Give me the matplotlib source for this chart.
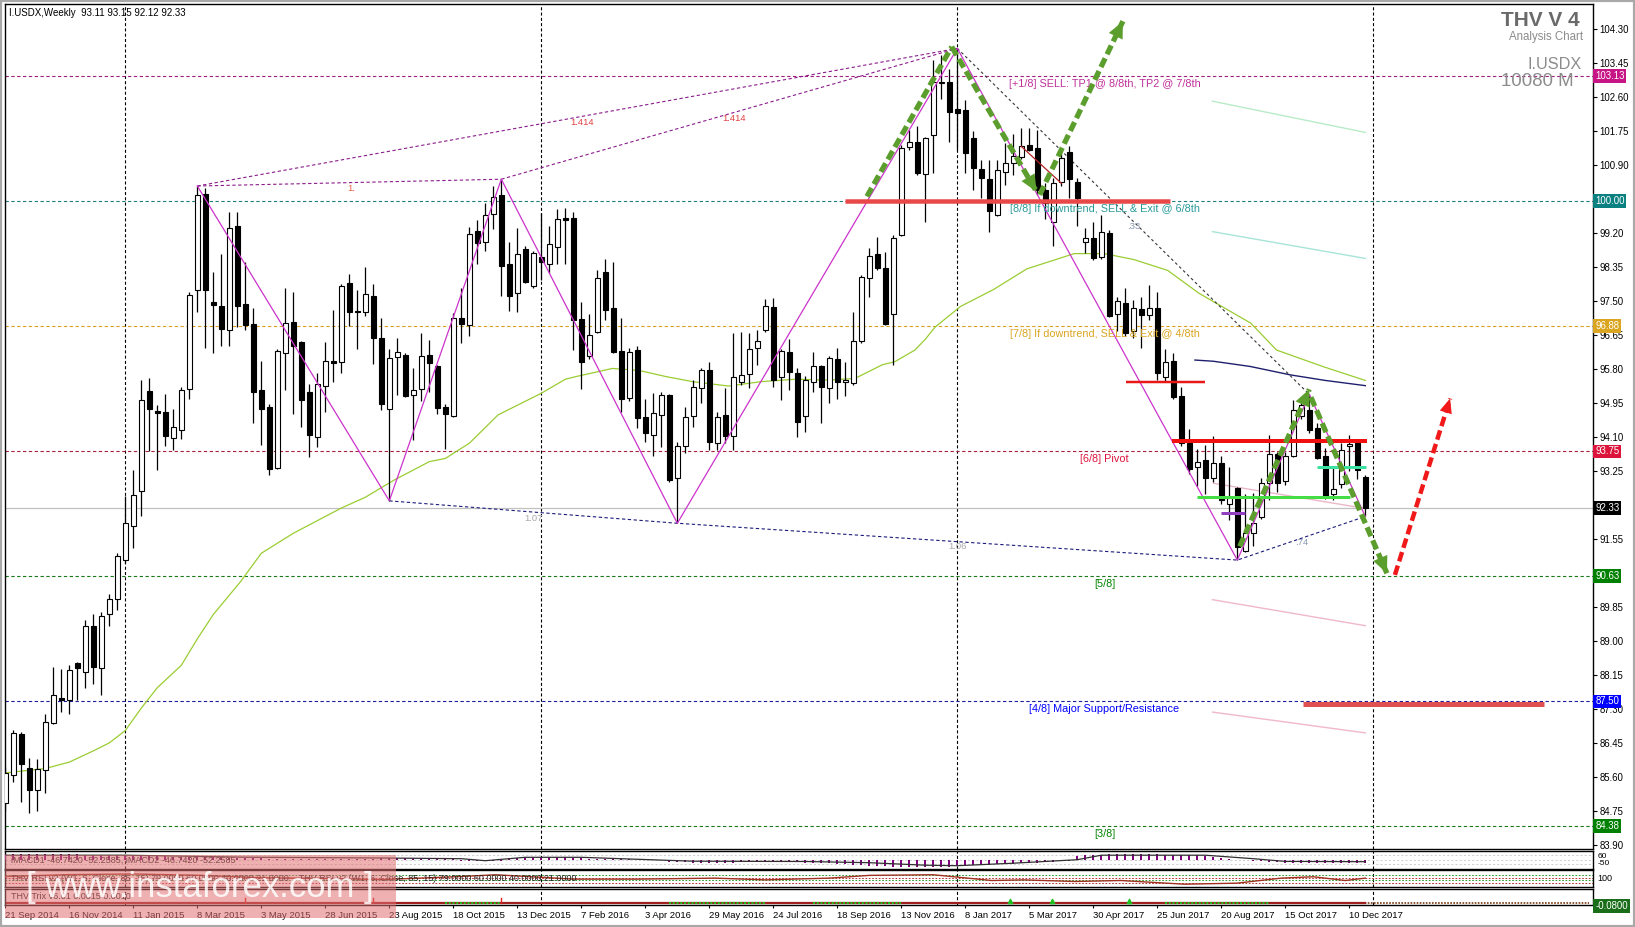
import matplotlib
matplotlib.use("Agg")
import matplotlib.pyplot as plt
from matplotlib.patches import Rectangle
from matplotlib.transforms import blended_transform_factory
import numpy as np

plt.rcParams['font.family'] = ['Liberation Sans', 'DejaVu Sans']
plt.rcParams['lines.scale_dashes'] = False

W, H, DPI = 1635, 927, 100

# ---------------- weekly I.USDX candles (21 Sep 2014 .. 24 Dec 2017) ----------------
opens = [84.95, 85.66, 86.69, 85.84, 85.29, 85.78, 86.96, 87.58, 87.53, 88.46,
         88.24, 89.39, 88.33, 89.67, 90.05, 91.03, 91.88, 92.76, 95.26, 94.75,
         94.73, 94.09, 94.29, 95.31, 97.78, 100.17, 97.49, 97.39, 96.78, 99.38,
         97.43, 96.93, 95.28, 94.85, 93.33, 96.20, 96.97, 96.47, 95.22, 94.10,
         95.39, 96.00, 95.97, 97.95, 97.26, 97.23, 97.63, 96.57, 94.80, 96.10,
         96.15, 95.15, 95.30, 96.16, 95.88, 94.85, 94.63, 97.08, 96.91, 99.26,
         98.98, 99.68, 100.16, 98.42, 97.70, 98.80, 97.87, 98.60, 98.43, 98.85,
         99.58, 99.58, 97.05, 96.12, 96.72, 98.22, 97.32, 96.26, 95.09, 96.28,
         94.60, 94.16, 94.66, 95.16, 93.08, 93.87, 94.64, 95.33, 95.78, 93.95,
         94.66, 94.14, 95.49, 95.69, 96.32, 96.77, 97.35, 95.60, 96.24, 95.70,
         94.62, 95.49, 95.87, 95.32, 96.05, 95.47, 95.45, 96.51, 98.07, 98.67,
         98.32, 97.17, 99.16, 101.35, 101.47, 100.68, 101.66, 102.95, 102.97, 102.30,
         102.28, 101.59, 100.80, 100.56, 99.66, 100.74, 100.95, 101.10, 101.40, 101.33,
         100.28, 99.49, 100.49, 101.24, 100.49, 98.97, 99.08, 98.60, 99.21, 97.19,
         97.46, 96.75, 97.31, 97.16, 97.33, 95.60, 96.01, 95.12, 93.95, 93.35,
         93.53, 93.07, 93.45, 92.44, 92.84, 91.26, 91.70, 92.11, 92.95, 93.67,
         93.01, 93.62, 94.62, 94.78, 94.32, 93.62, 92.67, 92.92, 93.88, 93.95,
         93.11]
highs = [85.85, 86.77, 86.73, 86.07, 86.05, 87.19, 88.35, 88.30, 88.40, 88.48,
         89.52, 89.69, 89.74, 90.18, 91.20, 92.63, 93.29, 95.53, 95.59, 94.90,
         95.19, 94.80, 95.35, 97.73, 100.38, 100.33, 98.24, 98.67, 99.73, 99.73,
         98.48, 97.32, 96.01, 94.92, 96.31, 97.83, 97.74, 96.50, 95.43, 95.70,
         96.48, 97.28, 97.92, 98.18, 97.78, 98.35, 97.93, 97.07, 96.30, 96.57,
         96.20, 95.82, 96.70, 96.53, 95.90, 94.94, 97.20, 97.83, 99.36, 99.53,
         99.95, 100.38, 100.55, 98.97, 99.33, 98.88, 98.75, 99.70, 99.37, 99.80,
         99.83, 99.73, 97.47, 97.18, 98.28, 98.55, 98.49, 97.07, 96.32, 96.37,
         95.05, 95.20, 95.24, 95.18, 93.99, 94.85, 95.53, 95.82, 95.97, 94.74,
         95.32, 96.71, 96.74, 96.71, 96.79, 97.55, 97.57, 96.30, 96.55, 95.82,
         95.62, 96.24, 95.90, 96.12, 96.33, 95.97, 97.24, 98.15, 98.82, 99.11,
         98.72, 99.16, 101.41, 101.78, 101.87, 101.60, 103.54, 103.65, 103.30, 103.82,
         102.53, 101.75, 101.03, 101.03, 101.03, 101.45, 101.68, 101.83, 101.83, 101.78,
         100.45, 100.57, 101.32, 101.37, 100.57, 99.33, 99.47, 99.66, 99.27, 97.60,
         97.83, 97.54, 97.60, 97.91, 97.73, 96.30, 96.20, 95.35, 94.30, 93.80,
         93.91, 94.13, 93.63, 93.36, 92.86, 92.67, 92.71, 93.09, 94.16, 93.72,
         93.74, 95.03, 95.11, 95.17, 94.45, 93.82, 93.37, 93.96, 94.15, 94.00,
         93.15]
lows = [84.75, 85.49, 84.98, 84.70, 84.75, 85.21, 86.92, 87.24, 87.17, 87.53,
        87.82, 87.92, 87.65, 89.39, 89.79, 90.95, 91.32, 92.14, 93.75, 93.29,
        93.88, 93.79, 94.06, 95.05, 97.24, 96.33, 96.20, 96.37, 96.37, 96.85,
        96.77, 94.45, 93.91, 93.16, 93.30, 95.28, 94.68, 94.35, 93.60, 93.86,
        94.72, 95.47, 95.70, 96.88, 96.30, 97.13, 95.92, 94.78, 92.51, 95.16,
        95.10, 94.04, 95.01, 95.22, 94.68, 93.81, 94.60, 96.45, 96.64, 98.42,
        98.76, 99.31, 97.62, 97.25, 97.22, 97.95, 97.83, 98.04, 98.21, 98.42,
        98.42, 96.28, 95.30, 96.05, 96.70, 97.03, 96.20, 94.72, 95.01, 94.32,
        93.99, 93.62, 93.86, 92.99, 91.95, 93.70, 94.35, 94.95, 93.78, 93.78,
        93.95, 93.78, 95.40, 95.32, 95.90, 96.72, 95.36, 95.02, 95.27, 94.10,
        94.22, 95.22, 94.46, 94.95, 95.05, 95.14, 95.40, 96.45, 97.61, 98.28,
        96.91, 95.91, 99.12, 101.28, 100.66, 99.47, 100.70, 102.55, 101.49, 101.28,
        100.70, 100.27, 100.07, 99.24, 99.62, 100.40, 100.66, 101.06, 101.25, 100.16,
        99.55, 98.87, 100.37, 100.07, 99.37, 98.71, 98.53, 98.55, 97.11, 96.75,
        96.63, 96.59, 96.34, 97.04, 95.54, 95.50, 95.05, 93.87, 93.19, 92.87,
        92.69, 92.99, 92.43, 92.03, 91.03, 91.22, 91.39, 92.05, 92.53, 92.73,
        92.90, 93.60, 94.55, 94.20, 93.55, 92.56, 92.53, 92.82, 93.25, 93.06,
        92.12]
closes = [85.71, 86.71, 85.92, 85.27, 85.80, 86.97, 87.66, 87.53, 88.28, 88.34,
          89.37, 88.35, 89.63, 90.05, 91.14, 91.96, 92.66, 95.02, 94.80, 94.71,
          94.13, 94.35, 95.28, 97.65, 100.15, 97.78, 97.41, 96.81, 99.33, 97.37,
          96.91, 95.22, 94.80, 93.30, 96.26, 96.95, 96.39, 95.02, 94.16, 95.43,
          96.01, 95.96, 97.88, 97.24, 97.22, 97.68, 96.57, 94.92, 96.07, 96.24,
          95.14, 95.28, 96.13, 95.96, 94.84, 94.67, 97.07, 96.92, 99.18, 98.95,
          99.66, 100.10, 98.37, 97.62, 98.68, 97.99, 98.70, 98.47, 98.93, 99.55,
          99.53, 97.03, 95.99, 96.66, 98.07, 97.29, 96.24, 95.05, 96.22, 94.57,
          94.20, 94.70, 95.16, 93.03, 93.87, 94.60, 95.35, 95.78, 93.97, 94.60,
          94.13, 95.60, 95.65, 96.30, 96.51, 97.39, 95.53, 96.26, 95.74, 94.47,
          95.52, 95.87, 95.36, 96.08, 95.49, 95.53, 96.51, 98.11, 98.64, 98.32,
          96.93, 99.07, 101.32, 101.49, 100.70, 101.57, 102.98, 102.97, 102.24, 102.20,
          101.21, 100.83, 100.57, 99.76, 100.77, 100.95, 101.12, 101.37, 101.28, 100.28,
          99.95, 100.45, 101.07, 100.56, 100.07, 99.08, 98.58, 99.23, 97.13, 97.50,
          96.71, 97.33, 97.15, 97.33, 95.71, 95.97, 95.10, 93.95, 93.30, 93.47,
          93.07, 93.45, 92.53, 92.57, 91.35, 91.70, 91.95, 92.95, 93.67, 92.95,
          93.62, 94.78, 94.91, 94.28, 93.57, 92.64, 92.80, 93.77, 93.93, 93.28,
          92.33]

# date labels every 8 weekly bars
date_labels = ['21 Sep 2014', '16 Nov 2014', '11 Jan 2015', '8 Mar 2015', '3 May 2015',
               '28 Jun 2015', '23 Aug 2015', '18 Oct 2015', '13 Dec 2015', '7 Feb 2016',
               '3 Apr 2016', '29 May 2016', '24 Jul 2016', '18 Sep 2016', '13 Nov 2016',
               '8 Jan 2017', '5 Mar 2017', '30 Apr 2017', '25 Jun 2017', '20 Aug 2017',
               '15 Oct 2017', '10 Dec 2017']
year_start_bars = [15, 67, 119, 171]

# right price scale (steps hidden behind the level boxes are left out)
price_ticks = [104.30, 103.45, 102.60, 101.75, 100.90, 99.20, 98.35, 97.50,
               96.65, 95.80, 94.95, 94.10, 93.25, 91.55, 89.85, 89.00,
               88.15, 87.30, 86.45, 85.60, 84.75, 83.90]

# Murrey math octave levels
mm_levels = [103.13, 100.00, 96.88, 93.75, 90.63, 87.50, 84.38]
mm_line_colors = ['#a0207f', '#1f7f7f', '#d8a020', '#a8203a', '#1a7a1a', '#1c1c9c', '#1a7a1a']
mm_box_colors = ['#c71585', '#0b8080', '#daa520', '#dc143c', '#008000', '#0000ff', '#008000']
mm_texts = ['[+1/8] SELL: TP1 @ 8/8th, TP2 @ 7/8th', '[8/8] If downtrend, SELL & Exit @ 6/8th',
            '[7/8] If downtrend, SELL & Exit @ 4/8th', '[6/8] Pivot', '[5/8]',
            '[4/8] Major Support/Resistance', '[3/8]']
mm_text_colors = ['#c0309a', '#2a9a9a', '#daa520', '#dc143c', '#008000', '#0000ff', '#008000']
last_price = 92.33

# moving averages
ma_green_bars = [0, 5, 8, 11, 13, 15, 17, 19, 22, 24, 26, 29.4, 32, 36, 42, 45, 48.6, 53, 55, 58,
                 61.6, 67, 70, 71.4, 75.9, 79.2, 82.5, 85.9, 90.4, 94.5, 98.7, 102.9, 106.2,
                 109.6, 111.2, 113.7, 115, 116.2, 119.4, 123.5, 127.7, 133.6, 137.4, 141.1,
                 145.3, 149.2, 155.7, 158.9, 164.8, 170]
ma_green_vals = [85.71, 85.82, 85.98, 86.26, 86.46, 86.77, 87.33, 87.84, 88.40, 89.06, 89.67,
                 90.49, 91.2, 91.7, 92.33, 92.6, 93.03, 93.49, 93.57, 93.95, 94.66, 95.2,
                 95.55, 95.62, 95.82, 95.77, 95.62, 95.49, 95.38, 95.49, 95.55, 95.53, 95.57,
                 95.91, 95.99, 96.28, 96.55, 96.85, 97.37, 97.79, 98.31, 98.69, 98.69, 98.54,
                 98.27, 97.7, 96.95, 96.28, 95.86, 95.52]
ma_navy_bars = [148.7, 151, 155.6, 160.6, 165, 170]
ma_navy_vals = [96.03, 96.0, 95.87, 95.66, 95.52, 95.39]

# zigzag pivots (bar, price)
zz_bars = [24, 48, 62, 84, 119, 154, 163, 170]
zz_vals = [100.38, 92.51, 100.55, 91.95, 103.82, 91.03, 95.17, 92.12]

# thick horizontal marker lines: (bar_from, bar_to, price, colour, width_px)
marker_lines = [(105.0, 145.6, 100.00, '#e84848', 4.5),
                (140.1, 149.9, 95.48, '#e81818', 2.5),
                (145.8, 170.2, 94.01, '#f01010', 4.0),
                (162.2, 192.3, 87.43, '#e05050', 5.0),
                (148.9, 168.1, 92.61, '#44dd44', 3.0),
                (163.9, 170.1, 93.35, '#3ce0a0', 3.0),
                (152.0, 155.0, 92.21, '#9040c0', 3.0)]
# faint projection lines: (bar_from, price_from, bar_to, price_to, colour)
proj_lines = [(150.9, 102.50, 170.0, 101.72, '#b8ecc8'),
              (150.9, 99.24, 170.0, 98.57, '#a8e4d8'),
              (151.0, 92.95, 170.0, 92.32, '#eab8c8'),
              (150.9, 90.04, 170.0, 89.39, '#f0b8c8'),
              (150.9, 87.23, 170.0, 86.71, '#f0b8c8')]

# forecast arrows: (bar_from, price_from, bar_to, price_to, head)
green_arrows = [(107.7, 100.12, 118.3, 103.86, False),
                (118.3, 103.86, 128.9, 100.24, True),
                (129.3, 100.16, 139.7, 104.50, True),
                (154.3, 91.37, 163.0, 95.30, True),
                (163.2, 95.10, 172.7, 90.70, True)]
red_arrow = (173.7, 90.66, 180.6, 95.07)

# ratio labels of the zigzag legs
ratio_labels = [('1.', 43.2, 100.33, '#e86040'), ('1.414', 72.1, 101.98, '#e04040'),
                ('1.414', 91.1, 102.06, '#e04040'), ('1.07', 66.0, 92.08, '#a8a8a8'),
                ('1.06', 119.0, 91.38, '#a8a8a8'), ('.33', 141.1, 99.36, '#8898b0'),
                ('.74', 162.1, 91.46, '#8898b0')]

# lower indicator panels
macd_hist = [6, 6, 6, 6, 6, 6, 6, 6, 6, 6, 5, 5, 5, 5, 5, 5,
             4, 4, 4, 4, 4, 3, 3, 3, 3, 3, 3, 3, 2, 2, 2, 2, 2, 1, 1, 1, 1, 1, 1, 1, 1, 1, 1,
             1, 1, 1, 1,
             2, 2, 2, 2, 2, 2, 2, 2, 1, 1,
             -1, -1, -1, -1, -1, -1,
             2, 2, 2, 3, 3, 3, 3, 3, 2, 2,
             1, 1, 1, 1, 1, 1, 0, 0, 0, 0,
             -2, -2, -2, -3, -3, -3, -3, -3, -3, -2, -2, -2, -2, -2, -2, -2, -2, -3, -3, -3,
             -3, -4, -4, -5, -5, -6, -6, -6, -7, -7, -7, -7, -7, -7, -7, -7,
             -6, -6, -5, -5, -5, -4, -4, -4, -3, -3, -3, -2, -2, -1, -1,
             4, 5, 5, 5, 6, 6, 6, 6, 6, 6, 6, 5, 5, 5, 5, 5, 4,
             3, 2, 1, 0, 0, -1, -1, -2, -2,
             -3, -3, -3, -3, -3, -3, -3, -3, -3, -3, -3]
macd_sig_bars = [0, 15, 30, 47, 57, 60, 65, 72, 78, 86, 100, 108, 115, 119, 126, 134, 137, 150, 156, 160, 170]
macd_sig_vals = [4.5, 4.5, 2.5, 1.7, 1.0, -1.0, 2.4, 2.4, 0.7, -1.5, -1.8, -3.0, -5.5, -6.0, -3.5, 0.0,
                 4.5, 4.5, 1.0, -1.7, -2.0]
rsi_bars = [0, 8, 16, 24, 32, 40, 47, 57.3, 61.3, 71, 79, 88.7, 95, 103, 108, 116, 123.3, 127.3,
            133.7, 139.4, 147.4, 153.9, 159.5, 163.5, 167.5, 170]
rsi_vals = [70, 85, 90, 80, 60, 55, 45, 71, 84, 49, 49, 57, 43, 57, 79, 84, 38, 43, 30, 38, 8.5,
            16.6, 57, 68, 38, 57]
rsi_levels = [79, 60, 40, 21]
trix_green_runs = [(55, 62), (83, 95), (101, 112), (145, 158)]
trix_red_spikes = [30, 46, 62]
trix_green_marks = [125.6, 130.8, 140.5]

# ---------------- figure and panels ----------------
fig = plt.figure(figsize=(W / DPI, H / DPI), dpi=DPI, facecolor='white')


def rect(x0, y0, x1, y1):
    return [x0 / W, 1 - y1 / H, (x1 - x0) / W, (y1 - y0) / H]


XL, XR = 5, 1593
ax = fig.add_axes(rect(XL, 4, XR, 849.3))
ax_macd = fig.add_axes(rect(XL, 850.7, XR, 868.7), sharex=ax)
ax_rsi = fig.add_axes(rect(XL, 870, XR, 887.3), sharex=ax)
ax_trix = fig.add_axes(rect(XL, 889.3, XR, 904.5), sharex=ax)

n = len(closes)
xs = np.arange(n)
ax.set_xlim(-0.04, 198.46)
ax.set_ylim(83.80, 104.93)

for a in (ax, ax_macd, ax_rsi, ax_trix):
    for s in a.spines.values():
        s.set_color('black')
        s.set_linewidth(1.0)
    a.tick_params(axis='x', which='both', length=0, labelbottom=False)
    for yb in year_start_bars:
        a.axvline(yb, color='black', lw=0.8, dashes=(2.2, 1.6), zorder=1)

# price scale on the right
ax.yaxis.tick_right()
ax.set_yticks(price_ticks)
ax.set_yticklabels(['%.2f' % v for v in price_ticks])
ax.tick_params(axis='y', direction='out', length=3, width=0.8, pad=1.5, labelsize=6.9,
               colors='black')

trans_r = blended_transform_factory(ax.transAxes, ax.transData)

# Murrey levels
for lvl, lc, bc, txt, tc in zip(mm_levels, mm_line_colors, mm_box_colors, mm_texts, mm_text_colors):
    ax.axhline(lvl, color=lc, lw=0.8, dashes=(2.4, 1.8), zorder=1)
    ax.text(137.4, lvl - 0.19, txt, ha='center', va='center', fontsize=7.8, color=tc, zorder=6)
    ax.text(1.0014, lvl, '%.2f' % lvl, transform=trans_r, ha='left', va='center', fontsize=6.9,
            color='white', clip_on=False, zorder=12,
            bbox=dict(boxstyle='square,pad=0.18', fc=bc, ec='none'))
ax.axhline(last_price, color='#c0c0c0', lw=0.9, zorder=1)
ax.text(1.0014, last_price, '%.2f' % last_price, transform=trans_r, ha='left', va='center',
        fontsize=6.9, color='white', clip_on=False, zorder=12,
        bbox=dict(boxstyle='square,pad=0.18', fc='black', ec='none'))

# moving averages
ax.plot(ma_green_bars, ma_green_vals, color='#9acd32', lw=0.9, zorder=2)
ax.plot(ma_navy_bars, ma_navy_vals, color='#1f1f70', lw=1.0, zorder=2)

# projection lines
for b0, p0, b1, p1, col in proj_lines:
    ax.plot([b0, b1], [p0, p1], color=col, lw=1.0, zorder=2)

# fib connector lines
ax.plot([zz_bars[0], zz_bars[2]], [zz_vals[0], zz_vals[2]], color='#8b1c8b', lw=0.8, dashes=(2.4, 1.8), zorder=2)
ax.plot([zz_bars[0], zz_bars[4]], [zz_vals[0], zz_vals[4]], color='#8b1c8b', lw=0.8, dashes=(2.4, 1.8), zorder=2)
ax.plot([zz_bars[2], zz_bars[4]], [zz_vals[2], zz_vals[4]], color='#8b1c8b', lw=0.8, dashes=(2.4, 1.8), zorder=2)
ax.plot([zz_bars[1], zz_bars[3], zz_bars[5], zz_bars[7]],
        [zz_vals[1], zz_vals[3], zz_vals[5], zz_vals[7]], color='#1c1c7c', lw=0.8, dashes=(2.4, 1.8), zorder=2)
ax.plot([zz_bars[4], zz_bars[6]], [zz_vals[4], zz_vals[6]], color='#333333', lw=0.8, dashes=(2.0, 2.0), zorder=2)
ax.plot([127, 132], [101.37, 100.45], color='#b02020', lw=0.9, zorder=5)
for txt, b, p, col in ratio_labels:
    ax.text(b, p, txt, ha='center', va='center', fontsize=6.8, color=col, zorder=6)

# candles
o, h, l, c = map(np.asarray, (opens, highs, lows, closes))
ax.vlines(xs, l, h, color='black', lw=0.9, zorder=3)
bw = 0.56
for i in range(n):
    lo, hi = min(o[i], c[i]), max(o[i], c[i])
    if hi - lo < 0.03:
        hi = lo + 0.03
    ax.add_patch(Rectangle((xs[i] - bw / 2, lo), bw, hi - lo,
                           fc='white' if c[i] >= o[i] else 'black', ec='black', lw=0.8, zorder=4))

# zigzag
ax.plot(zz_bars, zz_vals, color='#cc33cc', lw=0.9, zorder=5)

# horizontal marker lines
for b0, b1, p, col, wpx in marker_lines:
    ax.plot([b0, b1], [p, p], color=col, lw=wpx * 0.72, solid_capstyle='butt', zorder=7)

# arrows
GREEN = '#5c9e2e'
for b0, p0, b1, p1, head in green_arrows:
    ax.plot([b0, b1], [p0, p1], color=GREEN, lw=3.8, dashes=(7.0, 3.2), solid_capstyle='butt',
            dash_capstyle='butt', zorder=8)
    if head:
        ax.annotate('', xy=(b1, p1), xytext=(b1 - 0.12 * (b1 - b0), p1 - 0.12 * (p1 - p0)),
                    arrowprops=dict(arrowstyle='-|>,head_length=1.2,head_width=0.55',
                                    mutation_scale=10, lw=0, color=GREEN,
                                    shrinkA=0, shrinkB=0), zorder=9)
b0, p0, b1, p1 = red_arrow
ax.plot([b0, b1], [p0, p1], color='#f01818', lw=3.2, dashes=(7.0, 3.2), dash_capstyle='butt', zorder=8)
ax.annotate('', xy=(b1, p1), xytext=(b1 - 0.15 * (b1 - b0), p1 - 0.15 * (p1 - p0)),
            arrowprops=dict(arrowstyle='-|>,head_length=1.05,head_width=0.45', mutation_scale=10,
                            lw=0, color='#f01818', shrinkA=0, shrinkB=0), zorder=9)

# headings
ax.text(0.0025, 0.9897, 'I.USDX,Weekly  %.2f %.2f %.2f %.2f' % (opens[-1], highs[-1], lows[-1], closes[-1]),
        transform=ax.transAxes, ha='left', va='center', fontsize=7.0, color='black')
ax.text(0.9918, 0.981, 'THV V 4', transform=ax.transAxes, ha='right', va='center', fontsize=15,
        fontweight='bold', color='#6a6a6a')
ax.text(0.9937, 0.961, 'Analysis Chart', transform=ax.transAxes, ha='right', va='center',
        fontsize=8.3, color='#8c8c8c')
ax.text(0.993, 0.929, 'I.USDX', transform=ax.transAxes, ha='right', va='center', fontsize=11.7,
        color='#8c8c8c')
ax.text(0.988, 0.908, '10080 M', transform=ax.transAxes, ha='right', va='center', fontsize=13.4,
        color='#8c8c8c')

# ---------------- MACD panel ----------------
ax_macd.set_ylim(-9, 9)
for yy in (4.4, 0, -4.3):
    ax_macd.axhline(yy, color='#c8c8c8', lw=0.6, dashes=(1.5, 1.5))
ax_macd.bar(xs, macd_hist, width=0.25, bottom=0, color='#800080', zorder=3)
ax_macd.plot(macd_sig_bars, macd_sig_vals, color='#303030', lw=0.9, zorder=4)
ax_macd.text(0.004, 0.45, 'iMACD1 -46.7420 -52.2585, iMACD2 -46.7420 -52.2585',
             transform=ax_macd.transAxes, fontsize=6.5, color='#202020', va='center')
ax_macd.set_yticks([])
ax_macd.text(1.003, 0.7, '60', transform=ax_macd.transAxes, fontsize=6.0, va='center', clip_on=False)
ax_macd.text(1.003, 0.3, '-50', transform=ax_macd.transAxes, fontsize=6.0, va='center', clip_on=False)

# ---------------- RSI panel ----------------
ax_rsi.set_ylim(-16.3, 121.9)
for lv, col in zip(rsi_levels, ['#2a9a2a', '#b03030', '#2a9a2a', '#b03030']):
    ax_rsi.axhline(lv, color=col, lw=0.7, dashes=(1.2, 1.2))
ax_rsi.plot(rsi_bars, rsi_vals, color='#a03020', lw=1.0, zorder=3)
ax_rsi.text(0.004, 0.5, 'THV RSI v2 (W1, 6, Close, 85, 15) 79.0000 60.0000 40.0000 21.0000    '
            'THV RSI v2 (W1, 6, Close, 85, 15) 79.0000 60.0000 40.0000 21.0000',
            transform=ax_rsi.transAxes, fontsize=6.5, color='#202020', va='center')
ax_rsi.set_yticks([])
ax_rsi.text(1.003, 0.5, '100', transform=ax_rsi.transAxes, fontsize=6.5, va='center', clip_on=False)

# ---------------- Trix panel ----------------
ax_trix.set_ylim(-10, 10)
ax_trix.plot([0, 198], [-8, -8], color='#7a3a10', lw=1.2, dashes=(1.2, 1.0))
ax_trix.plot([0, 170], [-8, -8], color='#a02020', lw=1.6)
for r0, r1 in trix_green_runs:
    ax_trix.plot([r0, r1], [-8, -8], color='#20c020', lw=1.6, dashes=(1.5, 1.2))
for b in trix_red_spikes:
    ax_trix.plot([b, b], [-8, -1], color='#e02020', lw=1.0)
ax_trix.scatter(trix_green_marks, [-5.5] * len(trix_green_marks), marker='^', s=10, color='#20c020', zorder=4)
ax_trix.text(0.004, 0.55, 'THV Trix v6.01 0.0015 0.0010', transform=ax_trix.transAxes,
             fontsize=6.5, color='#202020', va='center')
ax_trix.set_yticks([])
ax_trix.text(1.0014, -0.1, '-0.0800', transform=ax_trix.transAxes, ha='left', va='center',
             fontsize=6.9, color='white', clip_on=False, zorder=12,
             bbox=dict(boxstyle='square,pad=0.18', fc='#1a6e1a', ec='none'))

# date axis
ax_trix.set_xticks(xs[::8][:len(date_labels)])
ax_trix.set_xticklabels(date_labels)
ax_trix.tick_params(axis='x', length=2, pad=2.5, labelsize=6.8, labelbottom=True)
for t in ax_trix.get_xticklabels():
    t.set_ha('left')

# watermark
fig.add_artist(Rectangle((5 / W, 1 - 918 / H), 391 / W, 63 / H, transform=fig.transFigure,
                         fc='#e07070', alpha=0.55, ec='none', zorder=20))
fig.text(200 / W, 1 - 887 / H, '[ www.instaforex.com ]', ha='center', va='center', fontsize=25,
         color='white', alpha=0.85, zorder=21)

# window frame
fig.add_artist(Rectangle((0, 0), 1, 1, transform=fig.transFigure, fill=False, ec='#a8a8a8', lw=3))

fig.savefig('out.png', dpi=DPI, facecolor='white')
